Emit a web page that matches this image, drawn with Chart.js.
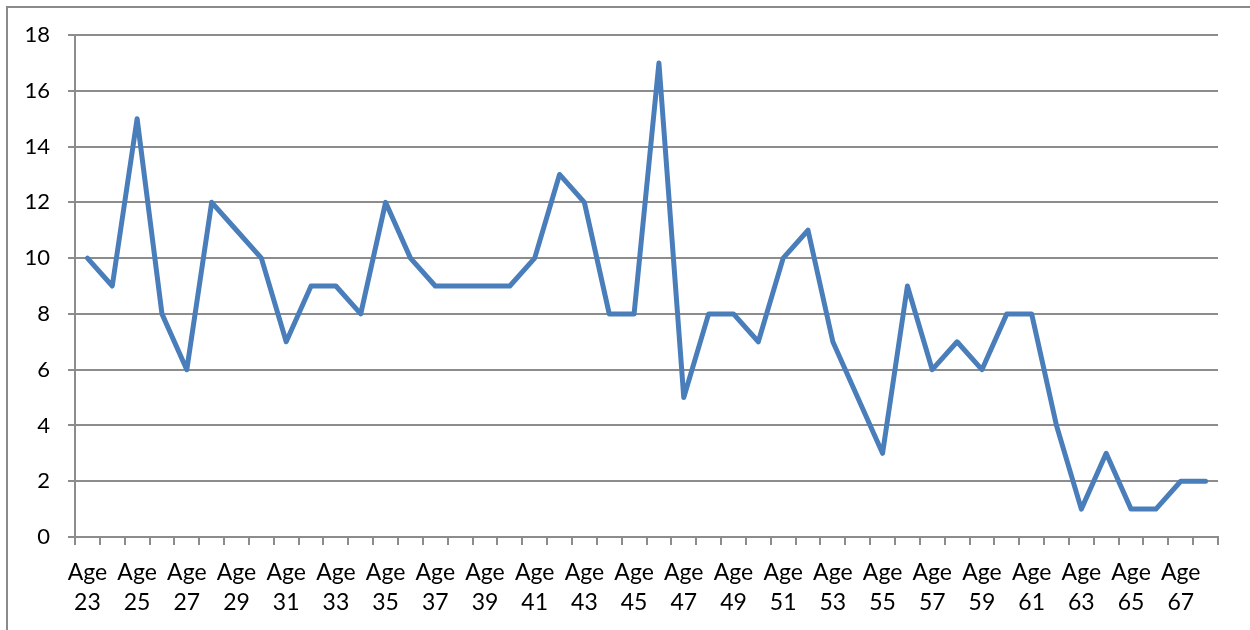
<!DOCTYPE html>
<html>
<head>
<meta charset="utf-8">
<script src="https://cdn.jsdelivr.net/npm/chart.js@4"></script>
<style>
  html, body { margin: 0; padding: 0; background: #ffffff; }
  #wrap { position: relative; width: 1250px; height: 630px; }
</style>
</head>
<body>
<div id="wrap"><canvas id="c" width="1250" height="630"></canvas></div>
<script>
// Ages covered by the series (Age 23 .. Age 68)
const ages = [23, 24, 25, 26, 27, 28, 29, 30, 31, 32, 33, 34, 35, 36, 37, 38, 39, 40,
              41, 42, 43, 44, 45, 46, 47, 48, 49, 50, 51, 52, 53, 54, 55, 56, 57, 58,
              59, 60, 61, 62, 63, 64, 65, 66, 67, 68];
const categories = ages.map(a => 'Age ' + a);

// Count per age
const counts = [10, 9, 15, 8, 6, 12, 11, 10, 7, 9, 9, 8, 12, 10, 9, 9, 9, 9,
                10, 13, 12, 8, 8, 17, 5, 8, 8, 7, 10, 11, 7, 5, 3, 9, 6, 7,
                6, 8, 8, 4, 1, 3, 1, 1, 2, 2];

// Y axis tick values
const yTicks = [0, 2, 4, 6, 8, 10, 12, 14, 16, 18];

const gridGray = '#8c8c8c';
const fontFamily = 'Lato, "Open Sans", sans-serif';

// Outer frame around the chart
const framePlugin = {
  id: 'frame',
  beforeDraw(chart) {
    const ctx = chart.ctx;
    ctx.save();
    ctx.strokeStyle = '#8a8a8a';
    ctx.lineWidth = 2;
    ctx.beginPath();
    ctx.moveTo(7, 640);
    ctx.lineTo(7, 7);
    ctx.lineTo(1260, 7);
    ctx.stroke();
    ctx.restore();
  }
};

new Chart(document.getElementById('c'), {
  type: 'line',
  data: {
    labels: categories,
    datasets: [{
      data: counts,
      borderColor: '#4a7ebb',
      borderWidth: 5,
      pointRadius: 0,
      pointHoverRadius: 0,
      tension: 0,
      borderJoinStyle: 'round',
      borderCapStyle: 'round',
      fill: false
    }]
  },
  options: {
    responsive: false,
    animation: false,
    layout: { padding: { left: 0, top: 35, right: 32, bottom: 0 } },
    plugins: {
      legend: { display: false },
      tooltip: { enabled: false }
    },
    scales: {
      x: {
        offset: true,
        afterFit(scale) { scale.height = 93; },
        border: { display: true, color: gridGray, width: 2 },
        grid: {
          offset: true,
          drawOnChartArea: false,
          drawTicks: true,
          tickLength: 8,
          color: gridGray,
          lineWidth: 2
        },
        ticks: {
          autoSkip: false,
          maxRotation: 0,
          minRotation: 0,
          padding: 13,
          color: '#000000',
          font: { family: fontFamily, size: 23, lineHeight: 1.3 },
          callback(value, index) {
            return index % 2 === 0 ? this.getLabelForValue(value).split(' ') : '';
          }
        }
      },
      y: {
        min: 0,
        max: 18,
        afterFit(scale) { scale.width = 75; },
        afterBuildTicks(scale) { scale.ticks = yTicks.map(v => ({ value: v })); },
        border: { display: true, color: gridGray, width: 2 },
        grid: {
          drawTicks: true,
          tickLength: 7,
          color: gridGray,
          lineWidth: 2
        },
        ticks: {
          padding: 18,
          color: '#000000',
          font: { family: fontFamily, size: 22 }
        }
      }
    }
  },
  plugins: [framePlugin]
});
</script>
</body>
</html>
